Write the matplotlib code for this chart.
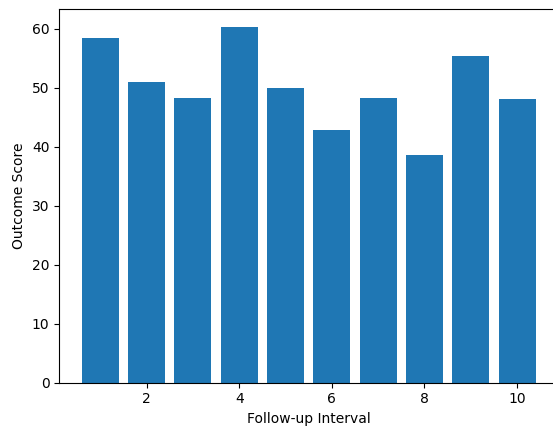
import numpy as np
import matplotlib.pyplot as plt

# --------------------------------
# Data
# --------------------------------
intervals = np.arange(1, 11)
scores = [58.4, 50.9, 48.2, 60.3, 49.9, 42.9, 48.2, 38.6, 55.3, 48.0]

# --------------------------------
# Plot
# --------------------------------
fig = plt.figure(figsize=(5.53, 4.3), dpi=100)
# right spine falls just outside the canvas, as in the reference
ax = fig.add_axes([0.107, 0.110, 0.9025, 0.869])
ax.bar(intervals, scores, color="#1f77b4")

ax.set_xlabel("Follow-up Interval")
ax.set_ylabel("Outcome Score")

fig.savefig("out.png", dpi=100)
